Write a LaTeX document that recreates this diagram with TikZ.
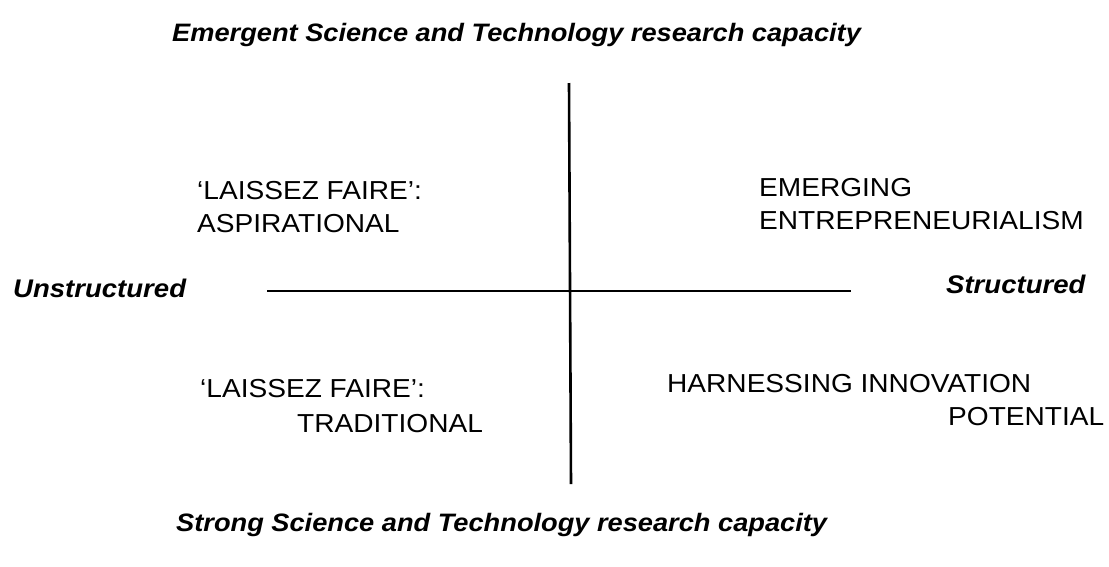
\documentclass[tikz,border=0pt]{standalone}
\usepackage{fontspec}
\setmainfont{Liberation Sans}[FakeStretch=1.08]
\begin{document}
\begin{tikzpicture}[x=1pt,y=-1pt,
  quad/.style={inner sep=0pt, anchor=base west, font=\fontsize{26}{30}\selectfont},
  axislabel/.style={inner sep=0pt, anchor=base west, font=\fontsize{25.5}{30}\selectfont\bfseries\itshape},
  heading/.style={inner sep=0pt, anchor=base west, font=\fontsize{25.2}{30}\selectfont\bfseries\itshape},
  axisline/.style={line width=2.6pt}]
\useasboundingbox (0,0) rectangle (1109,566);

% vertical and horizontal axes
\coordinate (vtop) at (569,83);
\coordinate (vbot) at (571,484);
\coordinate (hleft) at (267,291);
\coordinate (hright) at (851,291);
\draw[axisline] (vtop) -- (vbot);
\draw[axisline] (hleft) -- (hright);

% vertical axis ends
\node[heading] (top) at (172,41) {Emergent Science and Technology research capacity};
\node[heading] (bottom) at (176,531) {Strong Science and Technology research capacity};

% horizontal axis ends
\node[axislabel] (unstr) at (13,297) {Unstructured};
\node[axislabel] (str) at (946,293) {Structured};

% quadrants
\node[quad] (q1a) at (197,199) {‘LAISSEZ FAIRE’:};
\node[quad] (q1b) at (197,232) {ASPIRATIONAL};
\node[quad] (q2a) at (759,196) {EMERGING};
\node[quad] (q2b) at (759,229) {ENTREPRENEURIALISM};
\node[quad] (q3a) at (200,397) {‘LAISSEZ FAIRE’:};
\node[quad] (q3b) at (297,432) {TRADITIONAL};
\node[quad] (q4a) at (667,392) {HARNESSING INNOVATION};
\node[quad] (q4b) at (948,425) {POTENTIAL};
\end{tikzpicture}
\end{document}
